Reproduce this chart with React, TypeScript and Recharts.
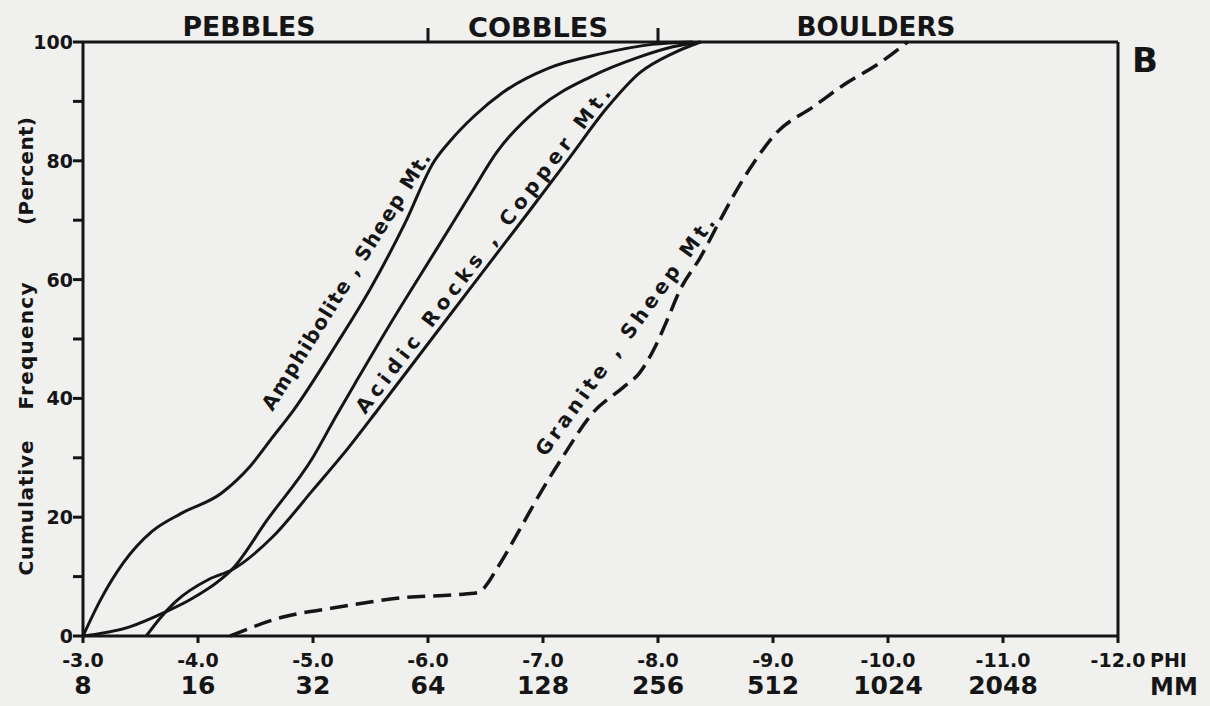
import React from 'react';
import { LineChart, Line, XAxis, YAxis } from 'recharts';

// ---- data (phi, cumulative %) ----
const PHI_TICKS = [-3, -4, -5, -6, -7, -8, -9, -10, -11, -12];
const MM_LABELS = ['8', '16', '32', '64', '128', '256', '512', '1024', '2048', ''];
const Y_TICKS = [0, 10, 20, 30, 40, 50, 60, 70, 80, 90, 100];
const CLASS_BOUNDS = [-6, -8];

const amphibolite: [number, number][] = [
  [-3.0, 0], [-3.15, 6], [-3.35, 12.3], [-3.6, 17.6], [-3.85, 20.6],
  [-4.2, 24], [-4.45, 28.5], [-4.65, 33.5], [-4.83, 38], [-5.2, 49], [-5.5, 58.5],
  [-5.8, 69.5], [-6.05, 79.8], [-6.2, 83.5], [-6.4, 87.5], [-6.65, 91.5], [-7.05, 95.6],
  [-7.5, 98], [-7.95, 99.6], [-8.3, 100],
];
const middleCurve: [number, number][] = [
  [-3.0, 0], [-3.4, 1.5], [-3.7, 3.9], [-3.93, 6.1], [-4.19, 9.4], [-4.3, 11.3],
  [-4.6, 19.5], [-5.0, 30.1], [-5.2, 37], [-5.38, 43], [-5.67, 52.5], [-6.08, 65.3],
  [-6.37, 74.4], [-6.6, 81.5], [-6.97, 89], [-7.41, 94.1], [-7.84, 97.5],
  [-8.13, 99.2], [-8.37, 100],
];
const acidicRocks: [number, number][] = [
  [-3.55, 0], [-3.67, 3], [-3.8, 5.7], [-4.1, 9.6], [-4.3, 11.2], [-4.65, 16.7],
  [-5.0, 24.6], [-5.3, 31.5], [-5.56, 38], [-6.0, 49.2], [-6.5, 61.9], [-6.86, 71],
  [-7.23, 80.5], [-7.56, 89], [-7.84, 94.8], [-8.13, 98.1], [-8.37, 100],
];
const granite: [number, number][] = [
  [-4.28, 0], [-4.74, 3.2], [-5.17, 4.7], [-5.76, 6.4], [-6.34, 7.1], [-6.43, 7.3],
  [-6.63, 12.3], [-6.77, 17], [-7.03, 25.8], [-7.17, 30.1], [-7.43, 37.5], [-7.7, 41.9],
  [-7.84, 44.3], [-7.96, 48.1], [-8.08, 53.2], [-8.19, 58.2], [-8.37, 63.8], [-8.54, 70],
  [-8.65, 73.9], [-8.83, 79.6], [-9.03, 84.7], [-9.35, 89.1], [-9.64, 93.1], [-9.93, 96.5],
  [-10.17, 100],
];

const toPts = (a: [number, number][]) => a.map(([x, y]) => ({ x, y }));

const INK = '#151515';
const FONT = '"DejaVu Sans", sans-serif';

const XTick = (props: any) => {
  const { x, y, payload } = props;
  const v = payload.value as number;
  const i = PHI_TICKS.indexOf(v);
  const mm = i >= 0 ? MM_LABELS[i] : '';
  return (
    <g>
      <text x={x} y={y + 22} textAnchor="middle" fontFamily={FONT} fontWeight="bold" fontSize={19} fill={INK}>
        {v.toFixed(1)}
      </text>
      {mm && (
        <text x={x} y={y + 49} textAnchor="middle" fontFamily={FONT} fontWeight="bold" fontSize={25} fill={INK}>
          {mm}
        </text>
      )}
      {v === -12 && (
        <>
          <text x={x + 32} y={y + 22} textAnchor="start" fontFamily={FONT} fontWeight="bold" fontSize={19} fill={INK}>PHI</text>
          <text x={x + 32} y={y + 50} textAnchor="start" fontFamily={FONT} fontWeight="bold" fontSize={24} fill={INK}>MM</text>
        </>
      )}
    </g>
  );
};

const YTick = (props: any) => {
  const { x, y, payload } = props;
  const v = payload.value as number;
  if (v % 20 !== 0) return <g />;
  return (
    <text x={x} y={y + 7} textAnchor="end" fontFamily={FONT} fontWeight="bold" fontSize={19} fill={INK}>
      {v}
    </text>
  );
};

const EmptyTick = () => <g />;

const axisStyle = { stroke: INK, strokeWidth: 3 };

export default function App() {
  return (
    <div style={{ position: 'absolute', left: 0, top: 0, width: 1210, height: 706, background: '#f0f0ee' }}>
      <LineChart width={1210} height={706} margin={{ top: 22, right: 0, bottom: 0, left: 0 }}>
        <XAxis
          xAxisId="b" type="number" dataKey="x" domain={[-12, -3]} reversed ticks={PHI_TICKS} interval={0}
          height={70} tickSize={7} tickMargin={2} axisLine={axisStyle} tickLine={axisStyle} tick={<XTick />}
          allowDataOverflow
        />
        <XAxis
          xAxisId="t" orientation="top" type="number" dataKey="x" domain={[-12, -3]} reversed ticks={CLASS_BOUNDS}
          interval={0} height={20} tickSize={14} tick={<EmptyTick />} axisLine={axisStyle} tickLine={axisStyle}
          allowDataOverflow
        />
        <YAxis
          yAxisId="l" type="number" domain={[0, 100]} ticks={Y_TICKS} interval={0} width={83}
          tickSize={10} tickMargin={0} axisLine={axisStyle} tickLine={axisStyle} tick={<YTick />}
        />
        <YAxis
          yAxisId="r" orientation="right" type="number" domain={[0, 100]} width={92}
          tick={false} tickLine={false} axisLine={axisStyle}
        />
        <Line xAxisId="b" yAxisId="l" data={toPts(amphibolite)} dataKey="y" type="monotone" stroke={INK}
          strokeWidth={3} dot={false} activeDot={false} isAnimationActive={false} name="Amphibolite, Sheep Mt." />
        <Line xAxisId="b" yAxisId="l" data={toPts(middleCurve)} dataKey="y" type="monotone" stroke={INK}
          strokeWidth={3} dot={false} activeDot={false} isAnimationActive={false} name="Middle curve" />
        <Line xAxisId="b" yAxisId="l" data={toPts(acidicRocks)} dataKey="y" type="monotone" stroke={INK}
          strokeWidth={3} dot={false} activeDot={false} isAnimationActive={false} name="Acidic Rocks, Copper Mt." />
        <Line xAxisId="b" yAxisId="l" data={toPts(granite)} dataKey="y" type="monotone" stroke={INK}
          strokeWidth={3.5} strokeDasharray="18 8" dot={false} activeDot={false} isAnimationActive={false}
          name="Granite, Sheep Mt." />
      </LineChart>
      <svg width={1210} height={706} style={{ position: 'absolute', left: 0, top: 0, pointerEvents: 'none' }}>
        <g fontFamily={FONT} fontWeight="bold" fill={INK}>
          <text x={249} y={36} textAnchor="middle" fontSize={27} textLength={133} lengthAdjust="spacingAndGlyphs">PEBBLES</text>
          <text x={538} y={37} textAnchor="middle" fontSize={27} textLength={140} lengthAdjust="spacingAndGlyphs">COBBLES</text>
          <text x={876} y={36} textAnchor="middle" fontSize={27} textLength={159} lengthAdjust="spacingAndGlyphs">BOULDERS</text>
          <text x={1145} y={72} textAnchor="middle" fontSize={34}>B</text>
          <text transform="translate(33,508) rotate(-90)" textAnchor="middle" fontSize={20} textLength={135}>Cumulative</text>
          <text transform="translate(33,346) rotate(-90)" textAnchor="middle" fontSize={20} textLength={127}>Frequency</text>
          <text transform="translate(33,171) rotate(-90)" textAnchor="middle" fontSize={20} textLength={108}>(Percent)</text>
          <text transform="translate(346,281) rotate(-58)" textAnchor="middle" dy="0.35em" fontSize={20} textLength={300}>Amphibolite , Sheep Mt.</text>
          <text transform="translate(483,250) rotate(-52.5)" textAnchor="middle" dy="0.35em" fontSize={20} textLength={405}>Acidic Rocks , Copper Mt.</text>
          <text transform="translate(625,336) rotate(-54)" textAnchor="middle" dy="0.35em" fontSize={20} textLength={290}>Granite , Sheep Mt.</text>
        </g>
      </svg>
    </div>
  );
}
